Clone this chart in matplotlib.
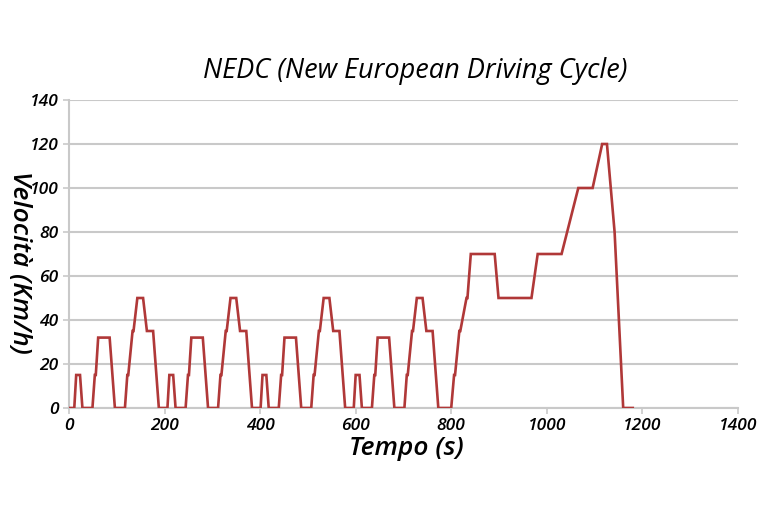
import matplotlib
matplotlib.use("Agg")
import matplotlib.pyplot as plt

# NEDC breakpoints: time (s) and speed (km/h)
time_s = [
    0, 11, 15, 23, 28, 49, 54, 56, 61, 85, 96, 117, 122, 124, 133, 135, 143, 155, 163, 176, 188,
    195, 206, 210, 218, 223, 244, 249, 251, 256, 280, 291, 312, 317, 319, 328, 330, 338, 350, 358, 371, 383,
    390, 401, 405, 413, 418, 439, 444, 446, 451, 475, 486, 507, 512, 514, 523, 525, 533, 545, 553, 566, 578,
    585, 596, 600, 608, 613, 634, 639, 641, 646, 670, 681, 702, 707, 709, 718, 720, 728, 740, 748, 761, 773,
    780, 800, 806, 808, 817, 819, 832, 834, 841, 891, 899, 968, 981, 1031, 1066, 1096, 1116, 1126, 1142, 1160, 1180,
]
speed_kmh = [
    0, 0, 15, 15, 0, 0, 15, 15, 32, 32, 0, 0, 15, 15, 35, 35, 50, 50, 35, 35, 0,
    0, 0, 15, 15, 0, 0, 15, 15, 32, 32, 0, 0, 15, 15, 35, 35, 50, 50, 35, 35, 0,
    0, 0, 15, 15, 0, 0, 15, 15, 32, 32, 0, 0, 15, 15, 35, 35, 50, 50, 35, 35, 0,
    0, 0, 15, 15, 0, 0, 15, 15, 32, 32, 0, 0, 15, 15, 35, 35, 50, 50, 35, 35, 0,
    0, 0, 15, 15, 35, 35, 50, 50, 70, 70, 50, 50, 70, 70, 100, 100, 120, 120, 80, 0, 0,
]
x_ticks = [0, 200, 400, 600, 800, 1000, 1200, 1400]
y_ticks = [0, 20, 40, 60, 80, 100, 120, 140]

title = "NEDC (New European Driving Cycle)"
x_label = "Tempo (s)"
y_label = "Velocità (Km/h)"

fam = ["Open Sans", "DejaVu Sans"]

fig = plt.figure(figsize=(7.67, 5.15), dpi=100)
ax = fig.add_axes([0.090, 0.2078, 0.872, 0.598])

ax.plot(time_s, speed_kmh, color="#b03838", lw=1.9, solid_joinstyle="miter", zorder=3)

ax.set_xlim(0, 1400)
ax.set_ylim(0, 140)
ax.set_xticks(x_ticks)
ax.set_yticks(y_ticks)
ax.grid(axis="y", color="#c9c9c9", lw=1.5)
ax.set_axisbelow(True)

for s in ["top", "right"]:
    ax.spines[s].set_visible(False)
for s in ["left", "bottom"]:
    ax.spines[s].set_color("#c9c9c9")
    ax.spines[s].set_linewidth(1.5)

ax.tick_params(axis="both", colors="#c9c9c9", length=4, width=1.2, labelcolor="black")
for lab in ax.get_xticklabels() + ax.get_yticklabels():
    lab.set_fontfamily(fam)
    lab.set_fontstyle("italic")
    lab.set_fontweight("semibold")
    lab.set_fontsize(12.5)

fig.text(0.541, 0.862, title, ha="center", va="center", fontsize=19.5,
         fontstyle="italic", family=fam)
fig.text(0.53, 0.130, x_label, ha="center", va="center", fontsize=19,
         fontstyle="italic", fontweight="semibold", family=fam)
fig.text(0.026, 0.49, y_label, ha="center", va="center", rotation=-90, fontsize=19,
         fontstyle="italic", fontweight="semibold", family=fam)

fig.savefig("out.png", dpi=100, facecolor="white")
